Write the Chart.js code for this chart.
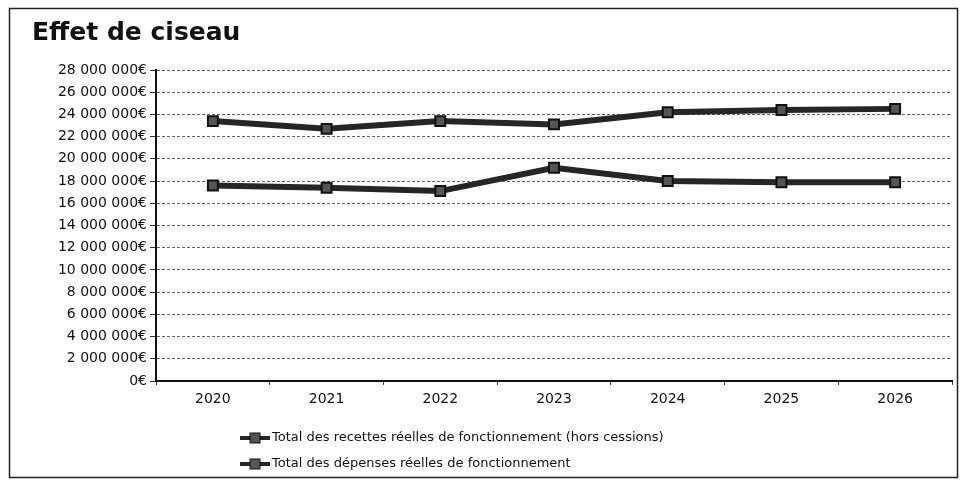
<!DOCTYPE html>
<html>
<head>
<meta charset="utf-8">
<script src="https://cdn.jsdelivr.net/npm/chart.js@4/dist/chart.umd.min.js"></script>
<style>
html,body{margin:0;padding:0;background:#fff;}
#wrap{width:963px;height:493px;position:relative;}
</style>
</head>
<body>
<div id="wrap"><canvas id="c" width="963" height="493"></canvas></div>
<script>
const categories = ["2020","2021","2022","2023","2024","2025","2026"];
const recettes = [23400000, 22700000, 23400000, 23100000, 24200000, 24400000, 24500000];
const depenses = [17600000, 17400000, 17100000, 19200000, 18000000, 17900000, 17900000];
const seriesLabels = [
  "Total des recettes réelles de fonctionnement (hors cessions)",
  "Total des dépenses réelles de fonctionnement"
];
const titleText = "Effet de ciseau";
const yMin = 0, yMax = 28000000, yStep = 2000000;

const FONT = "'DejaVu Sans', Verdana, sans-serif";

function fmtEuro(v){
  const s = Math.round(v).toString().replace(/\B(?=(\d{3})+(?!\d))/g, " ");
  return s + "€";
}

const framePlugin = {
  id: 'frame',
  beforeDraw(chart){
    const ctx = chart.ctx;
    ctx.save();
    ctx.fillStyle = '#fff';
    ctx.fillRect(0,0,chart.width,chart.height);
    ctx.strokeStyle = '#222';
    ctx.lineWidth = 1.5;
    ctx.strokeRect(9.5, 8.5, 948, 469);
    ctx.restore();
  }
};

const legendPlugin = {
  id: 'stackLegend',
  afterDraw(chart){
    const ctx = chart.ctx;
    const area = chart.chartArea;
    const x0 = area.left + 84;
    ctx.save();
    chart.data.datasets.forEach((ds, i) => {
      const y = area.bottom + 57 + i * 26;
      ctx.strokeStyle = ds.borderColor;
      ctx.lineWidth = 4;
      ctx.beginPath();
      ctx.moveTo(x0, y);
      ctx.lineTo(x0 + 30, y);
      ctx.stroke();
      ctx.fillStyle = ds.pointBackgroundColor;
      ctx.strokeStyle = ds.pointBorderColor;
      ctx.lineWidth = 1;
      ctx.fillRect(x0 + 10, y - 5, 10, 10);
      ctx.strokeRect(x0 + 10, y - 5, 10, 10);
      ctx.fillStyle = '#111';
      ctx.font = "13px " + FONT;
      ctx.textBaseline = 'middle';
      ctx.textAlign = 'left';
      ctx.fillText(ds.label, x0 + 32, y);
    });
    ctx.restore();
  }
};

const lineColor = '#262626';
const pointFill = '#555';
const pointEdge = '#111';

new Chart(document.getElementById('c'), {
  type: 'line',
  data: {
    labels: categories,
    datasets: [
      {
        label: seriesLabels[0],
        data: recettes,
        borderColor: lineColor,
        borderWidth: 6,
        pointStyle: 'rect',
        pointRadius: 7,
        pointBackgroundColor: pointFill,
        pointBorderColor: pointEdge,
        pointBorderWidth: 2,
        tension: 0,
        fill: false
      },
      {
        label: seriesLabels[1],
        data: depenses,
        borderColor: lineColor,
        borderWidth: 6,
        pointStyle: 'rect',
        pointRadius: 7,
        pointBackgroundColor: pointFill,
        pointBorderColor: pointEdge,
        pointBorderWidth: 2,
        tension: 0,
        fill: false
      }
    ]
  },
  options: {
    responsive: false,
    animation: false,
    devicePixelRatio: 1,
    layout: { padding: { left: 32, right: 11, top: 10, bottom: 82 } },
    plugins: {
      legend: { display: false },
      tooltip: { enabled: false },
      title: {
        display: true,
        text: titleText,
        align: 'start',
        color: '#111',
        font: { family: FONT, size: 25, weight: 'bold', lineHeight: 1.2 },
        padding: { top: 8, bottom: 22 }
      }
    },
    scales: {
      x: {
        offset: true,
        grid: {
          display: true,
          offset: true,
          drawOnChartArea: false,
          drawTicks: true,
          tickLength: 4,
          color: '#444'
        },
        border: { display: true, color: '#111', width: 2 },
        ticks: {
          color: '#111',
          font: { family: FONT, size: 14 },
          padding: 6
        },
        afterFit(scale){ scale.height = 30; }
      },
      y: {
        min: yMin,
        max: yMax,
        grid: {
          color: '#666',
          lineWidth: 1,
          tickLength: 6,
          tickColor: '#333',
          tickBorderDash: []
        },
        border: { display: true, color: '#111', width: 2, dash: [3, 2] },
        ticks: {
          stepSize: yStep,
          color: '#111',
          font: { family: FONT, size: 14 },
          padding: 3,
          callback: (v) => fmtEuro(v)
        },
        afterFit(scale){ scale.width = 124; }
      }
    }
  },
  plugins: [framePlugin, legendPlugin]
});
</script>
</body>
</html>
